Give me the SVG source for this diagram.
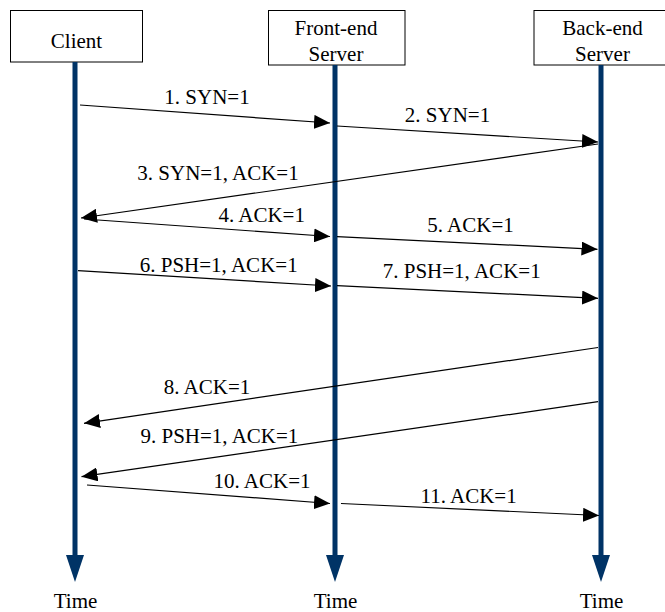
<svg xmlns="http://www.w3.org/2000/svg" width="665" height="612" viewBox="0 0 665 612">
<defs>
<style>
.box{fill:#fff;stroke:#000;stroke-width:1}
.t{font-family:"Liberation Serif","Times New Roman",serif;font-size:21px;fill:#000;text-anchor:middle}
.life{stroke:#003366;stroke-width:5;fill:none}
.lhead{fill:#003366}
.msg{stroke:#000;stroke-width:1.2;fill:none;marker-end:url(#ah)}
</style>
<marker id="ah" markerUnits="userSpaceOnUse" markerWidth="16" markerHeight="14" refX="16" refY="7" orient="auto">
<path d="M0,0 L16,7 L0,14 z" fill="#000"/>
</marker>
</defs>
<rect width="665" height="612" fill="#fff"/>
<g id="client">
<rect class="box" x="10.5" y="10.5" width="132" height="51.5"/>
<text class="t" x="76.5" y="48">Client</text>
<line class="life" x1="75" y1="62" x2="75" y2="557"/>
<polygon class="lhead" points="66,555 84,555 75,582"/>
<text class="t" x="75.5" y="608">Time</text>
</g>
<g id="frontend">
<rect class="box" x="268.5" y="10.5" width="136.5" height="54.5"/>
<text class="t" x="336" y="35">Front-end</text>
<text class="t" x="336" y="61">Server</text>
<line class="life" x1="335" y1="65" x2="335" y2="557"/>
<polygon class="lhead" points="326,555 344,555 335,582"/>
<text class="t" x="335.5" y="608">Time</text>
</g>
<g id="backend">
<rect class="box" x="534" y="10.5" width="137" height="54.5"/>
<text class="t" x="602.5" y="35">Back-end</text>
<text class="t" x="602.5" y="61">Server</text>
<line class="life" x1="601" y1="65" x2="601" y2="557"/>
<polygon class="lhead" points="592,555 610,555 601,582"/>
<text class="t" x="601.5" y="608">Time</text>
</g>
<g id="connectors">
<line class="msg" x1="80" y1="105" x2="330" y2="123"/>
<line class="msg" x1="337" y1="126" x2="598" y2="142"/>
<line class="msg" x1="598" y1="144" x2="81" y2="218"/>
<line class="msg" x1="84" y1="219" x2="330" y2="236.5"/>
<line class="msg" x1="337" y1="236.7" x2="597.5" y2="249.3"/>
<line class="msg" x1="78" y1="270.7" x2="331" y2="286"/>
<line class="msg" x1="337" y1="285.7" x2="598" y2="298.3"/>
<line class="msg" x1="598" y1="347.5" x2="84" y2="423.3"/>
<line class="msg" x1="598" y1="401.7" x2="81.5" y2="476.7"/>
<line class="msg" x1="87" y1="485" x2="330" y2="503.5"/>
<line class="msg" x1="341" y1="503.5" x2="599" y2="515.5"/>
</g>
<g id="labels">
<text class="t" x="207" y="104">1. SYN=1</text>
<text class="t" x="447.5" y="121.5">2. SYN=1</text>
<text class="t" x="218" y="180">3. SYN=1, ACK=1</text>
<text class="t" x="261.7" y="221.5">4. ACK=1</text>
<text class="t" x="470.5" y="232.3">5. ACK=1</text>
<text class="t" x="218.7" y="271.7">6. PSH=1, ACK=1</text>
<text class="t" x="461.7" y="278.3">7. PSH=1, ACK=1</text>
<text class="t" x="207" y="394">8. ACK=1</text>
<text class="t" x="219.4" y="442.7">9. PSH=1, ACK=1</text>
<text class="t" x="262" y="488">10. ACK=1</text>
<text class="t" x="468.6" y="503">11. ACK=1</text>
</g>
</svg>
